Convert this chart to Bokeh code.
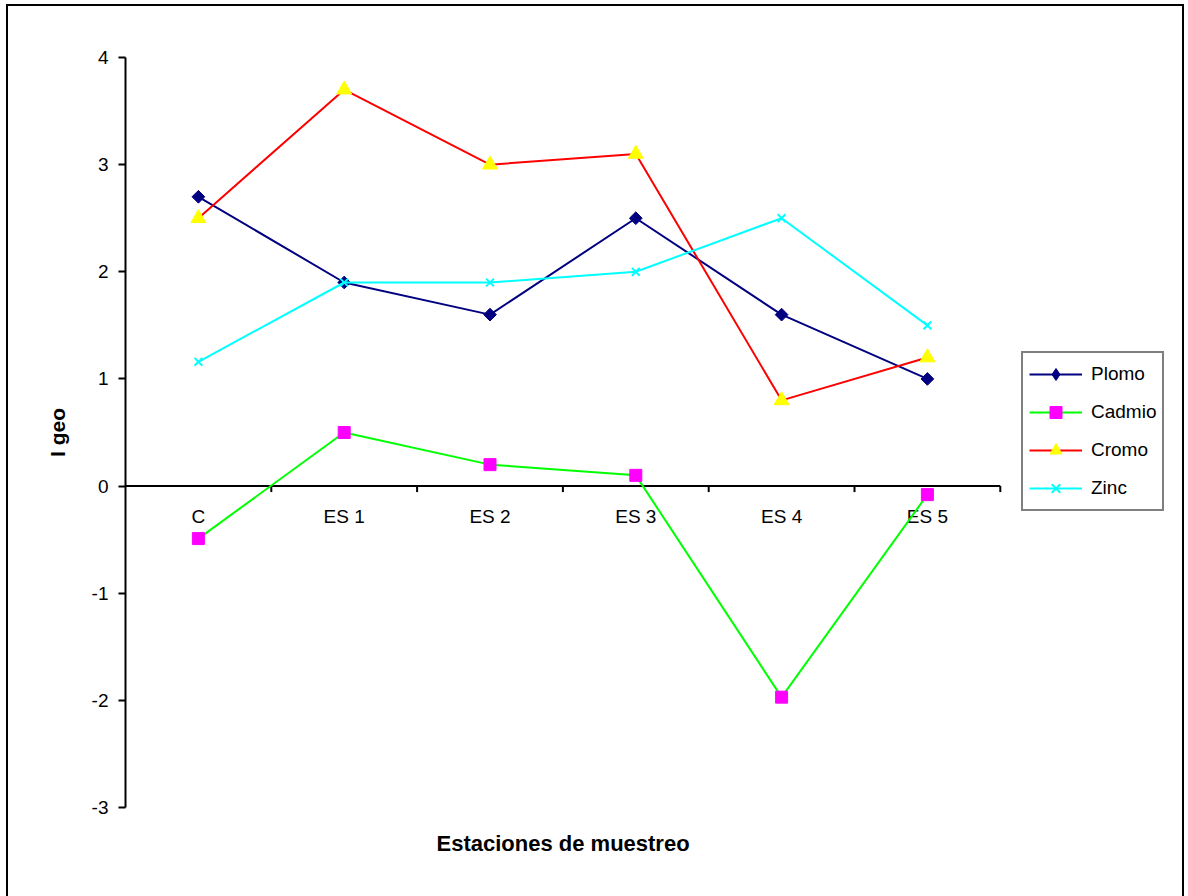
import numpy as np
from bokeh.plotting import figure
from bokeh.models import (Range1d, FixedTicker, Legend, LegendItem, Title,
                          PrintfTickFormatter, ColumnDataSource)
from bokeh.core.properties import value
from bokeh.embed import file_html
from bokeh.resources import INLINE

# Sampling stations and geo-accumulation index (I geo) per metal
stations = ["C", "ES 1", "ES 2", "ES 3", "ES 4", "ES 5"]
plomo = [2.7, 1.9, 1.6, 2.5, 1.6, 1.0]
cadmio = [-0.49, 0.5, 0.2, 0.1, -1.97, -0.08]
cromo = [2.5, 3.7, 3.0, 3.1, 0.8, 1.2]
zinc = [1.16, 1.9, 1.9, 2.0, 2.5, 1.5]
y_ticks = [-3, -2, -1, 0, 1, 2, 3, 4]

FONT = "Liberation Sans"
W, H = 1178, 900
LEFT, TOP, BOTTOM = 117, 51, 99
CAT_PX = 145.8  # pixel width of one station slot

n = len(stations)
xc = np.arange(n) + 0.5
bounds = np.arange(1, n + 1)

p = figure(
    width=W, height=H,
    x_range=Range1d(0, (W - LEFT) / CAT_PX),
    y_range=Range1d(y_ticks[0], y_ticks[-1]),
    x_axis_location=None,
    output_backend="svg", toolbar_location=None,
    min_border_left=LEFT, min_border_top=TOP,
    min_border_bottom=BOTTOM, min_border_right=0,
)
p.styles = {"border": "2px solid black", "margin-left": "6px", "margin-top": "4px"}
p.xgrid.visible = False
p.ygrid.visible = False
p.outline_line_color = None
p.background_fill_color = "white"
p.border_fill_color = "white"

ax = p.yaxis[0]
ax.ticker = FixedTicker(ticks=y_ticks)
ax.formatter = PrintfTickFormatter(format="%d")
ax.axis_line_color = "black"
ax.axis_line_width = 2
ax.major_tick_line_color = "black"
ax.major_tick_line_width = 2
ax.major_tick_out = 7
ax.major_tick_in = 0
ax.minor_tick_out = 0
ax.minor_tick_in = 0
ax.major_label_text_font = FONT
ax.major_label_text_font_size = "19px"
ax.major_label_text_color = "black"
ax.major_label_standoff = 10
ax.axis_label = "I geo"
ax.axis_label_text_font = FONT
ax.axis_label_text_font_size = "21px"
ax.axis_label_text_font_style = "bold"
ax.axis_label_text_color = "black"
ax.axis_label_standoff = 20

# Category axis drawn along the zero line
p.segment(x0=[0], y0=[0], x1=[n], y1=[0], line_color="black", line_width=2)
p.ray(x=bounds, y=np.zeros(n), length=6, length_units="screen",
      angle=-np.pi / 2, line_color="black", line_width=2)
p.text(x=xc, y=np.zeros(n), text=stations, y_offset=30,
       text_align="center", text_baseline="middle",
       text_font=value(FONT), text_font_size="19px", text_color="black")

series = [
    ("Plomo", plomo, "#000080", dict(marker="square", angle=np.pi / 4, size=9,
                                     fill_color="#000080", line_color="#000080")),
    ("Cadmio", cadmio, "#00FF00", dict(marker="square", size=12,
                                       fill_color="#FF00FF", line_color="#FF00FF")),
    ("Cromo", cromo, "#FF0000", dict(marker="triangle", size=15,
                                     fill_color="#FFFF00", line_color="#FFFF00")),
    ("Zinc", zinc, "#00FFFF", dict(marker="x", size=11, line_width=2,
                                   line_color="#00FFFF")),
]

items = []
for name, vals, color, mk in series:
    src = ColumnDataSource(dict(x=xc, y=vals))
    rl = p.line("x", "y", source=src, line_color=color, line_width=2)
    if mk.get("angle"):
        # legend swatches are drawn unrotated, so the key uses a small diamond
        # that sits hidden under the rotated square markers
        swatch = p.scatter("x", "y", source=src, marker="diamond", size=8,
                           fill_color=mk["fill_color"], line_color=mk["line_color"])
        p.scatter("x", "y", source=src, **mk)
        items.append(LegendItem(label=name, renderers=[rl, swatch]))
    else:
        rm = p.scatter("x", "y", source=src, **mk)
        items.append(LegendItem(label=name, renderers=[rl, rm]))

legend = Legend(
    items=items, location=(896, 296), margin=0,
    padding=6, spacing=8, glyph_width=53, glyph_height=30, label_standoff=9,
    label_text_font=FONT, label_text_font_size="19px", label_text_color="black",
    border_line_color="black", border_line_width=2,
    background_fill_color="white", background_fill_alpha=1.0,
)
p.add_layout(legend)

p.add_layout(Title(
    text="Estaciones de muestreo", align="left", offset=311, standoff=42,
    text_font=FONT, text_font_size="22px", text_font_style="bold",
    text_color="black",
), "below")

open("out.html", "w").write(file_html(p, INLINE))
